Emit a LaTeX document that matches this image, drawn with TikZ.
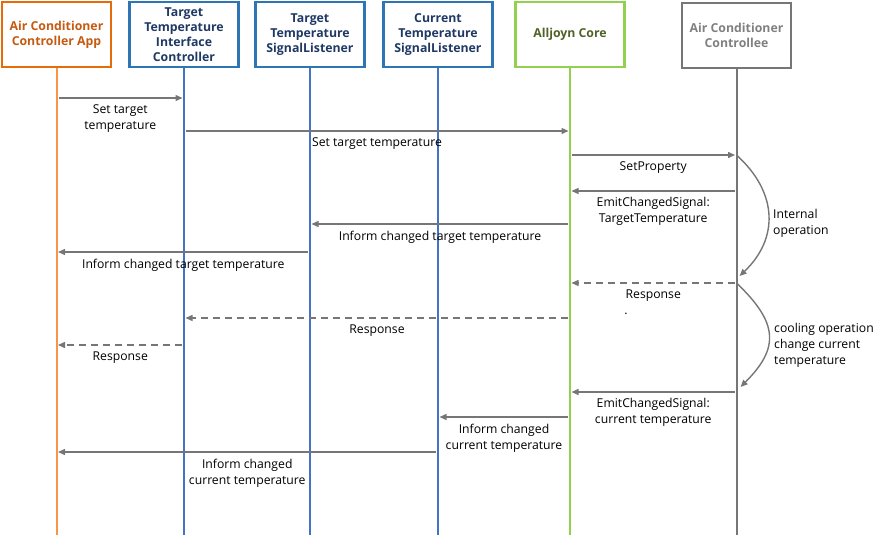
\documentclass[tikz,border=0pt]{standalone}
\usepackage{fontspec}
\setmainfont{Open Sans}
\usetikzlibrary{arrows.meta}
\definecolor{orangeBox}{RGB}{228,108,10}
\definecolor{orangeText}{RGB}{197,90,17}
\definecolor{orangeLife}{RGB}{247,150,70}
\definecolor{blueBox}{RGB}{46,117,182}
\definecolor{blueText}{RGB}{31,56,100}
\definecolor{blueLife}{RGB}{68,114,196}
\definecolor{greenBox}{RGB}{146,208,80}
\definecolor{greenText}{RGB}{79,98,40}
\definecolor{grayBox}{RGB}{118,118,118}
\definecolor{grayText}{RGB}{128,128,128}
\definecolor{arrowGray}{RGB}{118,118,118}
\begin{document}
\begin{tikzpicture}[
        x=1pt, y=-1pt,
        every node/.style={font=\fontsize{12.2}{16}\selectfont, align=center, inner sep=1pt},
        actor/.style={draw, line width=2.2pt, minimum width=109pt, minimum height=65pt, inner sep=2pt,
            font=\fontsize{12.3}{15}\selectfont\bfseries}, % Caixas dos participantes
        life/.style={line width=2pt}, % Linhas de vida
        msg/.style={draw=arrowGray, line width=1.4pt, -{Triangle[length=7pt,width=6pt]},
            shorten <=2pt, shorten >=1.5pt}, % Mensagens
        reply/.style={msg, dash pattern=on 7pt off 5pt}, % Respostas
        lbl/.style={below=5pt, midway, text=black}
    ]
    \useasboundingbox (0,0) rectangle (890,535);
    % participantes
    \node[actor, draw=orangeBox, text=orangeText, line width=2.6pt] (app) at (56.5,34.5) {Air Conditioner\\Controller App};
    \node[actor, draw=blueBox, text=blueText] (ttic) at (184,34.5) {Target\\Temperature\\Interface\\Controller};
    \node[actor, draw=blueBox, text=blueText] (ttsl) at (310,34.5) {Target\\Temperature\\SignalListener};
    \node[actor, draw=blueBox, text=blueText] (ctsl) at (438,34.5) {Current\\Temperature\\SignalListener};
    \node[actor, draw=greenBox, text=greenText] (core) at (570,34.5) {Alljoyn Core};
    \node[actor, draw=grayBox, text=grayText] (ctle) at (736.5,35.5) {Air Conditioner\\Controllee};
    \coordinate (bot) at (0,535);
    \foreach \a/\c in {app/orangeLife, ttic/blueLife, ttsl/blueLife, ctsl/blueLife, core/greenBox, ctle/grayBox}
        \draw[life, \c] (\a.south) -- (\a |- bot);
    % linhas das mensagens
    \foreach \n/\y in {1/98, 2/131, 3/155, 4/191, 5/224, 6/252, 7/283, 8/318, 9/345, 10/392, 11/417, 12/452}
        \coordinate (r\n) at (0,\y);
    \draw[msg] (app |- r1) -- (ttic |- r1) node[lbl] {Set target\\temperature};
    \draw[msg] (ttic |- r2) -- (core |- r2) node[lbl] {Set target temperature};
    \draw[msg] (core |- r3) -- (ctle |- r3) node[lbl] {SetProperty};
    \draw[msg] (ctle |- r4) -- (core |- r4) node[lbl] {EmitChangedSignal:\\TargetTemperature};
    \draw[msg] (core |- r5) -- (ttsl |- r5) node[lbl] {Inform changed target temperature};
    \draw[msg] (ttsl |- r6) -- (app |- r6) node[lbl] {Inform changed target temperature};
    \draw[reply] (ctle |- r7) -- (core |- r7) node[lbl] {Response};
    \draw[reply] (core |- r8) -- (ttic |- r8) node[lbl] {Response};
    \draw[reply] (ttic |- r9) -- (app |- r9) node[lbl] {Response};
    \draw[msg] (ctle |- r10) -- (core |- r10) node[lbl] {EmitChangedSignal:\\current temperature};
    \draw[msg] (core |- r11) -- (ctsl |- r11) node[lbl] {Inform changed\\current temperature};
    \draw[msg] (ctsl |- r12) -- (app |- r12) node[lbl] {Inform changed\\current temperature};
    \node (dot) at (626,314) {.};
    % operacoes internas
    \draw[msg, shorten <=0pt] (ctle |- r3) .. controls +(42,38) and +(40,-38) .. ([xshift=2pt]ctle.center |- 0,277);
    \draw[msg, shorten <=0pt] (ctle |- r7) .. controls +(42,40) and +(40,-40) .. ([xshift=3pt]ctle.center |- 0,388);
    \node[anchor=west, align=left] (intop) at (772,223) {Internal\\operation};
    \node[anchor=west, align=left] (coolop) at (773,345) {cooling operation\\change current\\temperature};
\end{tikzpicture}
\end{document}
